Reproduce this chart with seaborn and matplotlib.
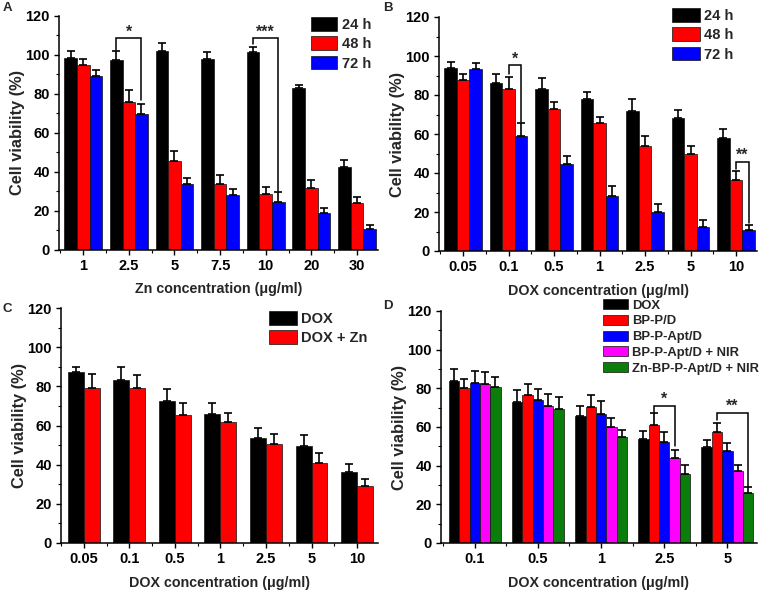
import matplotlib
matplotlib.use("Agg")
import matplotlib.pyplot as plt
import seaborn as sns
import pandas as pd
from matplotlib.patches import Patch
from matplotlib.ticker import MultipleLocator, FixedLocator

sns.set_theme(style="ticks")
plt.rcParams['font.family'] = ['Liberation Sans', 'DejaVu Sans']
plt.rcParams['font.weight'] = 'bold'
plt.rcParams['axes.labelweight'] = 'bold'

# ---------------- data ----------------
A_conc = ['1', '2.5', '5', '7.5', '10', '20', '30']
A_groups = ['24 h', '48 h', '72 h']
A_24 = [98.4, 97.2, 101.8, 97.7, 101.2, 82.7, 42.5]
A_24_err = [3.4, 4.6, 4.0, 3.8, 2.4, 1.7, 3.4]
A_48 = [94.7, 75.8, 45.5, 33.5, 28.4, 31.3, 23.6]
A_48_err = [3.0, 6.0, 5.0, 4.7, 3.4, 4.3, 3.1]
A_72 = [89.0, 69.7, 33.5, 27.9, 24.5, 18.5, 10.6]
A_72_err = [2.9, 4.8, 3.3, 3.1, 4.8, 2.9, 2.2]

B_conc = ['0.05', '0.1', '0.5', '1', '2.5', '5', '10']
B_groups = ['24 h', '48 h', '72 h']
B_24 = [93.9, 86.2, 83.3, 77.7, 71.9, 68.3, 58.1]
B_24_err = [3.1, 4.8, 5.5, 3.6, 6.3, 4.0, 4.3]
B_48 = [87.6, 83.0, 72.6, 65.8, 53.9, 49.6, 36.3]
B_48_err = [3.4, 6.3, 3.9, 3.1, 5.2, 4.4, 4.7]
B_72 = [93.2, 59.0, 44.7, 28.0, 20.0, 12.1, 10.7]
B_72_err = [3.3, 6.5, 4.0, 5.4, 4.0, 3.9, 2.6]

C_conc = ['0.05', '0.1', '0.5', '1', '2.5', '5', '10']
C_groups = ['DOX', 'DOX + Zn']
C_dox = [87.3, 83.2, 72.3, 65.7, 53.8, 49.7, 36.3]
C_dox_err = [2.6, 6.5, 6.3, 6.0, 4.8, 5.6, 4.0]
C_zn = [79.3, 79.3, 65.4, 61.6, 50.4, 41.0, 29.3]
C_zn_err = [7.2, 6.7, 6.3, 4.8, 5.1, 5.1, 3.4]

D_conc = ['0.1', '0.5', '1', '2.5', '5']
D_groups = ['DOX', 'BP-P/D', 'BP-P-Apt/D', 'BP-P-Apt/D + NIR', 'Zn-BP-P-Apt/D + NIR']
D_dox = [83.7, 72.7, 65.8, 53.8, 49.9]
D_dox_err = [6.2, 6.2, 5.2, 4.3, 3.4]
D_bp = [80.3, 76.7, 70.5, 61.0, 57.4]
D_bp_err = [4.5, 5.8, 6.3, 6.0, 4.5]
D_apt = [82.7, 73.9, 66.9, 52.3, 47.8]
D_apt_err = [6.3, 5.9, 6.3, 4.9, 3.8]
D_nir = [82.0, 70.7, 60.0, 43.8, 37.0]
D_nir_err = [6.2, 6.5, 4.5, 4.3, 3.1]
D_zn = [80.6, 69.1, 54.7, 35.8, 26.1]
D_zn_err = [5.5, 6.2, 3.6, 4.6, 2.8]

C_BLACK, C_RED, C_BLUE, C_MAG, C_GREEN = '#000000', '#ff0000', '#0000ff', '#ff00ff', '#0b7d0b'

W, H = 763, 593
fig = plt.figure(figsize=(W / 100, H / 100), dpi=100)


def rect(l, r, b, t):
    return [l / W, 1 - b / H, (r - l) / W, (b - t) / H]


def panel(ax, conc, groups, series, errs, colors, xlabel, width, xlim):
    rows = []
    for g, vals in zip(groups, series):
        for c, v in zip(conc, vals):
            rows.append({'conc': c, 'group': g, 'value': v})
    df = pd.DataFrame(rows)
    sns.barplot(data=df, x='conc', y='value', hue='group', order=conc,
                hue_order=groups, palette=colors, width=width, gap=0,
                edgecolor='#111111', linewidth=0.5, errorbar=None,
                legend=False, ax=ax, saturation=1)
    for cont, err in zip(ax.containers, errs):
        xs = [p.get_x() + p.get_width() / 2 for p in cont]
        ys = [p.get_height() for p in cont]
        ax.errorbar(xs, ys, yerr=[[0] * len(err), err], fmt='none',
                    ecolor='black', elinewidth=1.2, capsize=3.2,
                    capthick=1.2, zorder=1)
    ax.set_ylim(0, 120)
    ax.set_xlim(*xlim)
    ax.yaxis.set_major_locator(MultipleLocator(20))
    ax.yaxis.set_minor_locator(MultipleLocator(10))
    n = len(conc)
    ax.xaxis.set_minor_locator(FixedLocator([i + 0.5 for i in range(-1, n)]))
    for s in ['top', 'right']:
        ax.spines[s].set_visible(False)
    for s in ['left', 'bottom']:
        ax.spines[s].set_linewidth(1.1)
        ax.spines[s].set_color('black')
    ax.tick_params(axis='both', which='major', direction='out', length=3.5,
                   width=1.0, labelsize=10.5, colors='black', pad=3)
    ax.tick_params(axis='both', which='minor', direction='out', length=2,
                   width=0.8, colors='black')
    for lab in ax.get_xticklabels() + ax.get_yticklabels():
        lab.set_fontweight('bold')
    ax.set_xlabel(xlabel, fontsize=10.3, fontweight='bold', labelpad=7)
    ax.set_ylabel('Cell viability (%)', fontsize=11.8, fontweight='bold', labelpad=0)
    ax.set_facecolor('white')


def bracket(ax, i_left_group, i_left_bar, i_right_group, i_right_bar,
            ytop, yl, yr, text, ytext):
    pl = ax.containers[i_left_bar][i_left_group]
    pr = ax.containers[i_right_bar][i_right_group]
    xl = pl.get_x() + pl.get_width() / 2
    xr = pr.get_x() + pr.get_width() / 2
    ax.plot([xl, xl, xr, xr], [yl, ytop, ytop, yr], color='black', lw=1.1,
            solid_joinstyle='miter', clip_on=False)
    ax.text((xl + xr) / 2, ytext, text, ha='center', va='center',
            fontsize=11.5, fontweight='bold')


def make_legend(ax, labels, colors, x, y, fs, hl, hh, ls):
    handles = [Patch(facecolor=c, edgecolor='#111111', linewidth=0.5) for c in colors]
    ax.legend(handles, labels, loc='upper left', bbox_to_anchor=(x / W, 1 - y / H),
              bbox_transform=fig.transFigure, frameon=False,
              handlelength=hl, handleheight=hh, labelspacing=ls,
              handletextpad=0.3, borderpad=0, borderaxespad=0,
              prop={'weight': 'bold', 'size': fs})


# Panel A
axA = fig.add_axes(rect(59, 378, 249.5, 15.5))
panel(axA, A_conc, A_groups, [A_24, A_48, A_72], [A_24_err, A_48_err, A_72_err],
      [C_BLACK, C_RED, C_BLUE], 'Zn concentration (μg/ml)', 0.83, (-0.53, 6.46))
bracket(axA, 1, 0, 1, 2, 108.4, 102.3, 76.7, '*', 111.5)
bracket(axA, 4, 0, 4, 2, 108.4, 105.5, 30.0, '***', 111.5)
make_legend(axA, A_groups, [C_BLACK, C_RED, C_BLUE], 311, 17, 10.5, 1.8, 1.05, 0.32)

# Panel B
axB = fig.add_axes(rect(439, 757, 251, 17))
panel(axB, B_conc, B_groups, [B_24, B_48, B_72], [B_24_err, B_48_err, B_72_err],
      [C_BLACK, C_RED, C_BLUE], 'DOX concentration (μg/ml)', 0.83, (-0.53, 6.46))
bracket(axB, 1, 1, 1, 2, 95.3, 91.0, 66.0, '*', 98.3)
bracket(axB, 6, 1, 6, 2, 45.8, 42.3, 14.2, '**', 49.0)
make_legend(axB, B_groups, [C_BLACK, C_RED, C_BLUE], 672, 8, 10.5, 1.9, 1.05, 0.32)

# Panel C
axC = fig.add_axes(rect(61, 378, 543, 308))
panel(axC, C_conc, C_groups, [C_dox, C_zn], [C_dox_err, C_zn_err],
      [C_BLACK, C_RED], 'DOX concentration (μg/ml)', 0.70, (-0.5, 6.46))
make_legend(axC, C_groups, [C_BLACK, C_RED], 269, 311, 10.5, 1.9, 1.05, 0.32)

# Panel D
axD = fig.add_axes(rect(441, 757, 543, 311))
panel(axD, D_conc, D_groups, [D_dox, D_bp, D_apt, D_nir, D_zn],
      [D_dox_err, D_bp_err, D_apt_err, D_nir_err, D_zn_err],
      [C_BLACK, C_RED, C_BLUE, C_MAG, C_GREEN], 'DOX concentration (μg/ml)', 0.82,
      (-0.535, 4.47))
bracket(axD, 3, 1, 3, 3, 70.8, 67.9, 50.0, '*', 74.3)
bracket(axD, 4, 1, 4, 4, 67.0, 63.6, 29.2, '**', 70.5)
make_legend(axD, D_groups, [C_BLACK, C_RED, C_BLUE, C_MAG, C_GREEN], 603, 299,
            9.4, 1.9, 0.8, 0.25)

# Panel letters
for txt, x, y in [('A', 3, 2), ('B', 383, 2), ('C', 3, 303), ('D', 383, 300)]:
    fig.text(x / W, 1 - y / H, txt, ha='left', va='top', fontsize=9.5,
             fontweight='bold')

fig.savefig('out.png', dpi=100, facecolor='white')
